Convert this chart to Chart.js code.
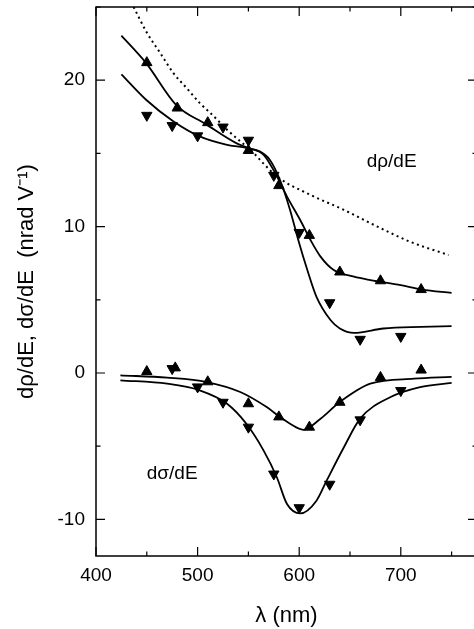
<!DOCTYPE html>
<html>
<head>
<meta charset="utf-8">
<script src="https://cdn.jsdelivr.net/npm/chart.js@4/dist/chart.umd.min.js"></script>
<style>
  html, body { margin: 0; padding: 0; background: #fff; overflow: hidden; }
  #wrap { position: relative; width: 478px; height: 629px; }
</style>
</head>
<body>
<div id="wrap"><canvas id="myChart" width="478" height="629"></canvas></div>
<script>
// measured points, d rho / dE
var rhoUpX = [450, 480, 510, 550, 580, 610, 640, 680, 720];
var rhoUpY = [21.2, 18.1, 17.1, 15.2, 12.8, 9.4, 6.9, 6.3, 5.7];
var rhoDownX = [450, 475, 500, 525, 550, 575, 600, 630, 660, 700];
var rhoDownY = [17.6, 16.9, 16.2, 16.8, 15.9, 13.5, 9.6, 4.8, 2.3, 2.5];

// measured points, d sigma / dE
var sigUpX = [450, 478, 510, 550, 580, 610, 640, 680, 720];
var sigUpY = [0.1, 0.35, -0.6, -2.1, -3.0, -3.7, -2.0, -0.3, 0.2];
var sigDownX = [475, 500, 525, 550, 575, 600, 630, 660, 700];
var sigDownY = [0.3, -0.95, -2.0, -3.7, -6.9, -9.2, -7.6, -3.2, -1.2];

// fitted curves
var fitRhoUpX = [425, 449, 479, 508, 538, 551, 565, 576, 588, 601, 611, 621, 634, 654, 670, 700, 721, 750];
var fitRhoUpY = [23.05, 21.2, 18.3, 17.0, 15.7, 15.35, 14.9, 13.7, 12.05, 10.45, 9.1, 7.95, 7.03, 6.58, 6.35, 6.0, 5.7, 5.48];
var fitRhoDownX = [425, 449, 476, 502, 528, 548, 561, 571, 581, 591, 599, 608, 617, 631, 640, 654, 683, 720, 750];
var fitRhoDownY = [20.4, 18.68, 17.2, 16.16, 15.6, 15.37, 15.14, 14.57, 13.2, 11.14, 9.1, 7.03, 5.2, 3.6, 3.04, 2.74, 3.04, 3.15, 3.2];
var fitSigUpX = [424, 470, 509, 542, 568, 581, 591, 604, 621, 640, 670, 713, 750];
var fitSigUpY = [-0.16, -0.32, -0.62, -1.3, -2.33, -3.0, -3.47, -3.88, -3.12, -1.98, -0.73, -0.39, -0.27];
var fitSigDownX = [424, 470, 502, 529, 548, 565, 578, 588, 601, 617, 627, 644, 660, 690, 719, 750];
var fitSigDownY = [-0.5, -0.73, -1.18, -2.1, -3.47, -5.3, -7.12, -8.95, -9.59, -8.72, -7.35, -5.07, -3.12, -1.64, -0.96, -0.68];

// dotted reference curve
var dotX = [437, 450, 463, 476, 489, 502, 516, 529, 542, 552, 565, 578, 611, 644, 677, 709, 747];
var dotY = [25, 23.25, 21.88, 20.5, 19.48, 18.45, 17.53, 16.62, 15.82, 15.25, 14.3, 13.42, 12.17, 11.14, 10.0, 8.97, 8.06];

var xTicks = [400, 450, 500, 550, 600, 650, 700, 750];
var yTicks = [-10, -5, 0, 5, 10, 15, 20, 25];

function pts(xs, ys) {
  return xs.map(function (x, i) { return { x: x, y: ys[i] }; });
}

function curve(xs, ys, dash) {
  return {
    data: pts(xs, ys),
    showLine: true,
    borderColor: '#000',
    borderWidth: dash ? 2 : 1.8,
    borderDash: dash ? [2, 3.5] : [],
    pointRadius: 0,
    cubicInterpolationMode: 'monotone',
    fill: false
  };
}

function marks(xs, ys, down) {
  return {
    data: pts(xs, ys),
    showLine: false,
    pointStyle: 'triangle',
    pointRotation: down ? 180 : 0,
    pointRadius: 6,
    backgroundColor: '#000',
    borderColor: '#000',
    borderWidth: 1
  };
}

var FONT = "'Liberation Sans', Arial, sans-serif";

var frame = {
  id: 'frame',
  afterDraw: function (chart) {
    var ctx = chart.ctx;
    var a = chart.chartArea;
    var xs = chart.scales.x, ys = chart.scales.y;
    ctx.save();
    ctx.strokeStyle = '#000';
    ctx.lineWidth = 1.5;
    ctx.strokeRect(a.left, a.top, a.right - a.left, a.bottom - a.top);
    ctx.lineWidth = 1.2;
    xTicks.forEach(function (v) {
      var p = xs.getPixelForValue(v);
      var len = v % 100 === 0 ? 9 : 4.5;
      ctx.beginPath();
      ctx.moveTo(p, a.bottom); ctx.lineTo(p, a.bottom - len);
      ctx.moveTo(p, a.top); ctx.lineTo(p, a.top + len);
      ctx.stroke();
    });
    yTicks.forEach(function (v) {
      var p = ys.getPixelForValue(v);
      var len = v % 10 === 0 ? 9 : 4.5;
      ctx.beginPath();
      ctx.moveTo(a.left, p); ctx.lineTo(a.left + len, p);
      ctx.moveTo(a.right, p); ctx.lineTo(a.right - len, p);
      ctx.stroke();
    });
    ctx.fillStyle = '#000';
    ctx.font = '19px ' + FONT;
    ctx.textAlign = 'center';
    ctx.textBaseline = 'middle';
    ctx.fillText('d\u03c1/dE', xs.getPixelForValue(691), ys.getPixelForValue(14.45));
    ctx.fillText('d\u03c3/dE', xs.getPixelForValue(475), ys.getPixelForValue(-6.9));
    ctx.restore();
  }
};

var chart = new Chart(document.getElementById('myChart'), {
  type: 'scatter',
  data: {
    datasets: [
      curve(dotX, dotY, true),
      curve(fitRhoUpX, fitRhoUpY),
      curve(fitRhoDownX, fitRhoDownY),
      curve(fitSigUpX, fitSigUpY),
      curve(fitSigDownX, fitSigDownY),
      marks(rhoUpX, rhoUpY, false),
      marks(rhoDownX, rhoDownY, true),
      marks(sigUpX, sigUpY, false),
      marks(sigDownX, sigDownY, true)
    ]
  },
  options: {
    responsive: false,
    animation: false,
    devicePixelRatio: 1,
    layout: { autoPadding: false, padding: { top: 7, right: 1, left: 0, bottom: 0 } },
    plugins: { legend: { display: false }, tooltip: { enabled: false } },
    scales: {
      x: {
        type: 'linear',
        min: 400, max: 775,
        grid: { display: false, drawTicks: false },
        border: { display: false },
        ticks: { stepSize: 100, includeBounds: false, padding: 8, color: '#000',
                 font: { family: FONT, size: 19 } },
        title: { display: true, text: '\u03bb (nm)', color: '#000', padding: { top: 0, bottom: 0 },
                 font: { family: FONT, size: 22 } },
        afterFit: function (s) { s.height = 73; s.paddingLeft = 0; s.paddingRight = 0; }
      },
      y: {
        min: -12.5, max: 25,
        grid: { display: false, drawTicks: false },
        border: { display: false },
        ticks: { stepSize: 10, includeBounds: false, padding: 11, color: '#000',
                 font: { family: FONT, size: 19 } },
        title: { display: true, text: 'd\u03c1/dE, d\u03c3/dE  (nrad V\u207b\u00b9)', color: '#000',
                 padding: { top: 14, bottom: 0 }, font: { family: FONT, size: 22 } },
        afterFit: function (s) { s.width = 96; s.paddingTop = 0; s.paddingBottom = 0; }
      }
    }
  },
  plugins: [frame]
});
</script>
</body>
</html>
